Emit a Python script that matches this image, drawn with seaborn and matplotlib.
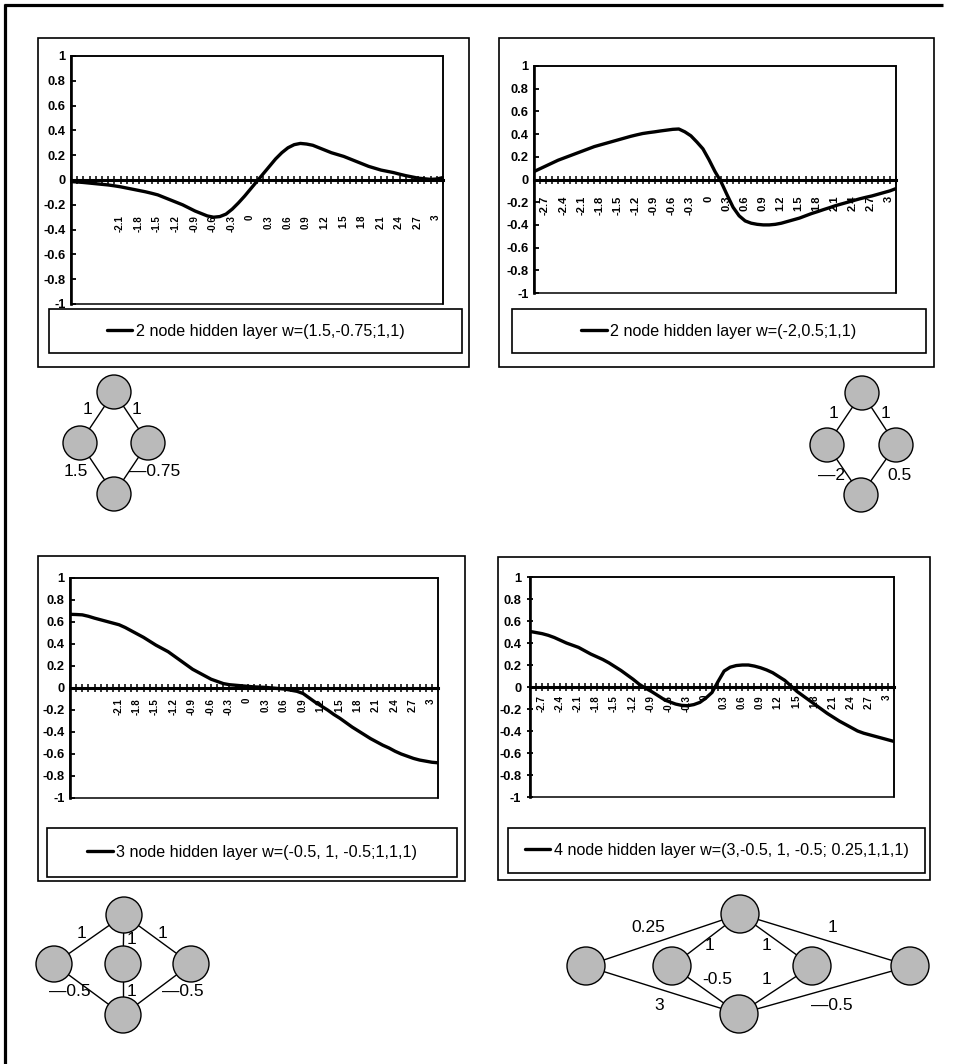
import numpy as np
import pandas as pd
import seaborn as sns
import matplotlib
matplotlib.use("Agg")
import matplotlib.pyplot as plt
from matplotlib.patches import Rectangle, Circle
from matplotlib.transforms import ScaledTranslation

# ---------------------------------------------------------------- data
X_VALUES = [round(-3 + 0.1 * i, 1) for i in range(61)]

# network output for each hidden-layer configuration, sampled every 0.1
Y_TWO_A = [-0.013, -0.016, -0.02, -0.025, -0.03, -0.035, -0.04, -0.047, -0.055, -0.065,
           -0.075, -0.085, -0.095, -0.107, -0.12, -0.14, -0.16, -0.18, -0.2, -0.225,
           -0.25, -0.27, -0.29, -0.3, -0.295, -0.275, -0.235, -0.185, -0.13, -0.07,
           -0.01, 0.05, 0.11, 0.17, 0.22, 0.26, 0.285, 0.295, 0.29, 0.28,
           0.26, 0.24, 0.22, 0.205, 0.19, 0.17, 0.15, 0.13, 0.11, 0.095,
           0.08, 0.07, 0.06, 0.047, 0.035, 0.025, 0.015, 0.01, 0.005, 0.008, 0.02]
Y_TWO_B = [0.07, 0.095, 0.12, 0.145, 0.17, 0.19, 0.21, 0.23, 0.25, 0.27,
           0.29, 0.305, 0.32, 0.335, 0.35, 0.365, 0.38, 0.393, 0.405, 0.413,
           0.42, 0.428, 0.435, 0.442, 0.445, 0.42, 0.385, 0.33, 0.27, 0.175,
           0.07, -0.02, -0.135, -0.245, -0.32, -0.365, -0.385, -0.395, -0.4, -0.4,
           -0.395, -0.385, -0.37, -0.355, -0.34, -0.32, -0.3, -0.283, -0.265, -0.248,
           -0.23, -0.215, -0.2, -0.185, -0.17, -0.157, -0.145, -0.13, -0.115, -0.1, -0.08]
Y_THREE = [0.67, 0.668, 0.665, 0.652, 0.635, 0.62, 0.605, 0.59, 0.575, 0.55,
           0.52, 0.49, 0.46, 0.425, 0.39, 0.36, 0.33, 0.29, 0.25, 0.21,
           0.17, 0.14, 0.11, 0.08, 0.06, 0.04, 0.03, 0.025, 0.02, 0.015,
           0.01, 0.008, 0.005, 0.0, -0.005, -0.01, -0.02, -0.03, -0.05, -0.09,
           -0.13, -0.165, -0.2, -0.24, -0.275, -0.315, -0.355, -0.39, -0.425, -0.46,
           -0.49, -0.52, -0.545, -0.575, -0.6, -0.62, -0.64, -0.655, -0.665, -0.675, -0.68]
Y_FOUR = [0.505, 0.495, 0.485, 0.47, 0.45, 0.425, 0.4, 0.38, 0.36, 0.33,
          0.3, 0.275, 0.25, 0.22, 0.185, 0.15, 0.11, 0.07, 0.025, -0.01,
          -0.04, -0.075, -0.11, -0.135, -0.155, -0.167, -0.17, -0.16, -0.14, -0.1,
          -0.05, 0.05, 0.145, 0.18, 0.195, 0.2, 0.2, 0.19, 0.175, 0.155,
          0.13, 0.095, 0.06, 0.01, -0.04, -0.08, -0.12, -0.16, -0.2, -0.24,
          -0.275, -0.31, -0.34, -0.37, -0.4, -0.42, -0.435, -0.45, -0.465, -0.48, -0.495]

SERIES_NAMES = [
    "2 node hidden layer w=(1.5,-0.75;1,1)",
    "2 node hidden layer w=(-2,0.5;1,1)",
    "3 node hidden layer w=(-0.5, 1, -0.5;1,1,1)",
    "4 node hidden layer w=(3,-0.5, 1, -0.5; 0.25,1,1,1)",
]

X_LABELS_SHORT = ["-2.1", "-1.8", "-1.5", "-1.2", "-0.9", "-0.6", "-0.3", "0",
                  "0.3", "0.6", "0.9", "1.2", "1.5", "1.8", "2.1", "2.4", "2.7", "3"]
X_LABELS_LONG = ["-2.7", "-2.4"] + X_LABELS_SHORT
Y_TICKS = [-1, -0.8, -0.6, -0.4, -0.2, 0, 0.2, 0.4, 0.6, 0.8, 1]
Y_LABELS = ["-1", "-0.8", "-0.6", "-0.4", "-0.2", "0", "0.2", "0.4", "0.6", "0.8", "1"]

# edge weights written beside each network sketch
NET_A_WEIGHTS = ["1", "1", "1.5", "\u20140.75"]
NET_B_WEIGHTS = ["1", "1", "\u20142", "0.5"]
NET_C_WEIGHTS = ["1", "1", "1", "\u20140.5", "1", "\u20140.5"]
NET_D_WEIGHTS = ["0.25", "1", "1", "1", "-0.5", "1", "3", "\u20140.5"]

# ---------------------------------------------------------------- style
sns.set_style("white", rc={"axes.edgecolor": "black", "xtick.color": "black",
                           "ytick.color": "black", "text.color": "black"})
plt.rcParams["font.family"] = ["Liberation Sans", "DejaVu Sans"]

W, H = 956, 1064
fig = plt.figure(figsize=(W / 100, H / 100), dpi=100)


def px_rect(x0, y0, x1, y1):
    return [x0 / W, 1 - y1 / H, (x1 - x0) / W, (y1 - y0) / H]


canvas = fig.add_axes([0, 0, 1, 1], zorder=0)
canvas.set_xlim(0, W)
canvas.set_ylim(H, 0)
canvas.axis("off")

# page frame (left and top rules)
canvas.plot([5, 5], [4, H], color="black", lw=2.3, solid_capstyle="butt")
canvas.plot([4, 943], [5, 5], color="black", lw=2.3, solid_capstyle="butt")


def draw_panel(values, name, labels, plot_px, frame_px, legend_px,
               label_gap, label_fs, ytick_dir):
    x0, y0, x1, y1 = frame_px
    canvas.add_patch(Rectangle((x0, y0), x1 - x0, y1 - y0, fill=False,
                               ec="black", lw=1.2))
    lx0, ly0, lx1, ly1 = legend_px
    canvas.add_patch(Rectangle((lx0, ly0), lx1 - lx0, ly1 - ly0, fill=False,
                               ec="black", lw=1.2))

    ax = fig.add_axes(px_rect(*plot_px), zorder=2)
    sns.lineplot(x=X_VALUES, y=values, color="black", linewidth=2.4,
                 label=name, ax=ax, zorder=4)
    ax.set_xlim(-3, 3)
    ax.set_ylim(-1, 1)
    ax.set_xlabel("")
    ax.set_ylabel("")

    # category axis drawn through y = 0
    ax.spines["bottom"].set_position(("data", 0))
    ax.spines["bottom"].set_linewidth(2.2)
    ax.spines["left"].set_linewidth(1.9)
    for side in ("top", "right"):
        ax.spines[side].set_linewidth(1.1)
    ax.add_patch(Rectangle((0, 0), 1, 1, transform=ax.transAxes, fill=False,
                           ec="black", lw=1.1, clip_on=False))
    ax.set_xticks(np.linspace(-3, 3, 61))
    ax.tick_params(axis="x", bottom=True, direction="inout", length=6.0,
                   width=1.1, labelbottom=False)
    ax.set_yticks(Y_TICKS, labels=Y_LABELS, fontweight="bold")
    ax.tick_params(axis="y", left=True, direction=ytick_dir,
                   length=4.5 if ytick_dir == "inout" else 3.6, width=1.3,
                   labelsize=9.3, pad=4)

    shift = ScaledTranslation(-7 / 100, -label_gap / 100, fig.dpi_scale_trans)
    for lab in labels:
        ax.text(float(lab), 0, lab, rotation=90, ha="center", va="top",
                fontsize=label_fs, fontweight="bold",
                transform=ax.transData + shift, zorder=1)

    ax.legend(loc="center",
              bbox_to_anchor=(lx0 / W, 1 - ly1 / H, (lx1 - lx0) / W, (ly1 - ly0) / H),
              bbox_transform=fig.transFigure, frameon=False, fontsize=11.6,
              handlelength=1.6, handletextpad=0.2, borderaxespad=0, borderpad=0)
    return ax


draw_panel(Y_TWO_A, SERIES_NAMES[0], X_LABELS_SHORT,
           (71, 56, 443, 304), (38, 38, 469, 367), (49, 309, 462, 353),
           35, 7.0, "in")
draw_panel(Y_TWO_B, SERIES_NAMES[1], X_LABELS_LONG,
           (534, 66, 896, 293), (499, 38, 934, 367), (512, 309, 926, 353),
           16, 8.0, "in")
draw_panel(Y_THREE, SERIES_NAMES[2], X_LABELS_SHORT,
           (70, 578, 438, 798), (38, 556, 465, 881), (47, 828, 457, 877),
           10, 7.0, "in")
draw_panel(Y_FOUR, SERIES_NAMES[3], X_LABELS_LONG,
           (530, 577, 894, 797), (498, 557, 930, 880), (508, 828, 925, 873),
           8, 7.0, "inout")


# ---------------------------------------------------------------- network sketches
def draw_net(nodes, edges, weights, label_xy, radius, fs):
    for a, b in edges:
        canvas.plot([nodes[a][0], nodes[b][0]], [nodes[a][1], nodes[b][1]],
                    color="black", lw=1.0, zorder=1)
    for cx, cy in nodes.values():
        canvas.add_patch(Circle((cx, cy), radius, fc="#bababa", ec="black",
                                lw=1.0, zorder=2))
    for w, (tx, ty) in zip(weights, label_xy):
        canvas.text(tx, ty, w, ha="center", va="center", fontsize=fs, zorder=3)


draw_net({"out": (114, 392), "l": (80, 443), "r": (148, 443), "in": (114, 494)},
         [("out", "l"), ("out", "r"), ("l", "in"), ("r", "in")],
         NET_A_WEIGHTS, [(88, 410), (137, 410), (76, 472), (155, 472)], 17, 12.5)

draw_net({"out": (862, 393), "l": (827, 445), "r": (896, 445), "in": (861, 495)},
         [("out", "l"), ("out", "r"), ("l", "in"), ("r", "in")],
         NET_B_WEIGHTS, [(834, 414), (886, 414), (832, 476), (900, 476)], 17, 12.5)

draw_net({"out": (124, 915), "l": (54, 964), "m": (123, 964), "r": (191, 964),
          "in": (123, 1015)},
         [("out", "l"), ("out", "m"), ("out", "r"), ("l", "in"), ("m", "in"),
          ("r", "in")],
         NET_C_WEIGHTS, [(82, 934), (132, 939), (163, 934), (70, 991), (132, 991),
                         (183, 991)], 18, 12.5)

draw_net({"out": (740, 914), "fl": (586, 966), "il": (672, 966), "ir": (812, 966),
          "fr": (910, 966), "in": (739, 1014)},
         [("fl", "out"), ("fl", "in"), ("il", "out"), ("il", "in"), ("ir", "out"),
          ("ir", "in"), ("fr", "out"), ("fr", "in")],
         NET_D_WEIGHTS, [(648, 928), (710, 946), (767, 946), (833, 928), (717, 980),
                         (767, 980), (659, 1006), (832, 1006)], 19, 12.5)

fig.savefig("out.png", dpi=100, facecolor="white")
